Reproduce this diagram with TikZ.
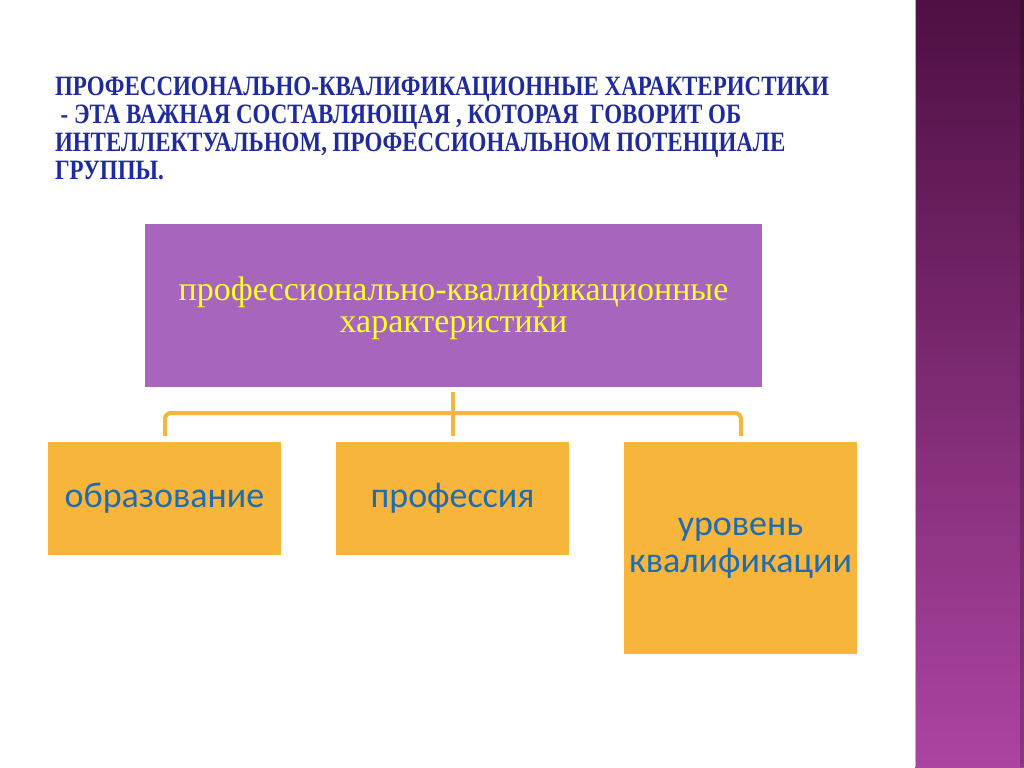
\documentclass[tikz,border=0pt]{standalone}
\usepackage{fontspec}
\setmainfont{Liberation Serif}
\newfontfamily\headfont[FakeStretch=0.82]{Liberation Serif}
\newfontfamily\boxfont{Carlito}
\definecolor{headblue}{HTML}{1F2A9C}
\definecolor{boxpurple}{HTML}{A865BD}
\definecolor{boxorange}{HTML}{F8B53B}
\definecolor{boxblue}{HTML}{1E6DB2}
\definecolor{textyellow}{HTML}{FFFF2A}
\definecolor{stripdark}{HTML}{4E1042}
\definecolor{striplight}{HTML}{AC44A2}

\begin{document}
\begin{tikzpicture}[x=0.5pt, y=-0.5pt,
		every node/.style={inner sep=0pt, outer sep=0pt},
		topbox/.style={rectangle, fill=boxpurple, minimum width=308.5pt, minimum height=81.5pt},
		toptext/.style={align=center, text=textyellow, font=\fontsize{17}{16}\selectfont},
		subbox/.style={rectangle, fill=boxorange, minimum width=116.5pt, align=center, text=boxblue, font=\boxfont\fontsize{18}{18.5}\selectfont},
		bus/.style={draw=boxorange, line width=2pt, rounded corners=3pt}]
				\useasboundingbox (0,0) rectangle (1024,767);
				\fill[white] (0,0) rectangle (1024,767);
				
				% purple strip at the right
				\shade[top color=stripdark, bottom color=striplight] (915,0) rectangle (1024,767);
				\draw[striplight!50!white, line width=0.4pt] (915.5,0) -- (915.5,767);
				\fill[black, opacity=0.2] (1020,0) rectangle (1024,767);
				
				\node[anchor=north west, align=left, text=headblue, font=\headfont\bfseries\fontsize{14}{14}\selectfont] (title) at (55,77){ПРОФЕССИОНАЛЬНО-КВАЛИФИКАЦИОННЫЕ ХАРАКТЕРИСТИКИ\\
				\ - ЭТА ВАЖНАЯ СОСТАВЛЯЮЩАЯ , КОТОРАЯ \ ГОВОРИТ ОБ\\
				ИНТЕЛЛЕКТУАЛЬНОМ, ПРОФЕССИОНАЛЬНОМ ПОТЕНЦИАЛЕ\\
				ГРУППЫ.};
				
				\node[topbox] (quals) at (453.5,305.5){};
				\node[toptext] (qualstext) at (453.5,308){профессионально-квалификационные\\характеристики};
				
				\node[subbox, minimum height=56.5pt] (edu) at (164.5,498.5){образование};
				\node[subbox, minimum height=56.5pt] (prof) at (452.5,498.5){профессия};
				\node[subbox, minimum height=106pt] (level) at (740.5,548){уровень\\квалификации};
				
				\coordinate (hub) at (453,392);
				\coordinate (hubend) at (453,436);
				\coordinate (busl) at (165,413);
				\coordinate (busr) at (741,413);
				\coordinate (dropl) at (165,436);
				\coordinate (dropr) at (741,436);
				
				\path[bus] (dropl) -- (busl) -- (busr) -- (dropr);
				\path[bus] (hub) -- (hubend);
				\end{tikzpicture}
\end{document}
